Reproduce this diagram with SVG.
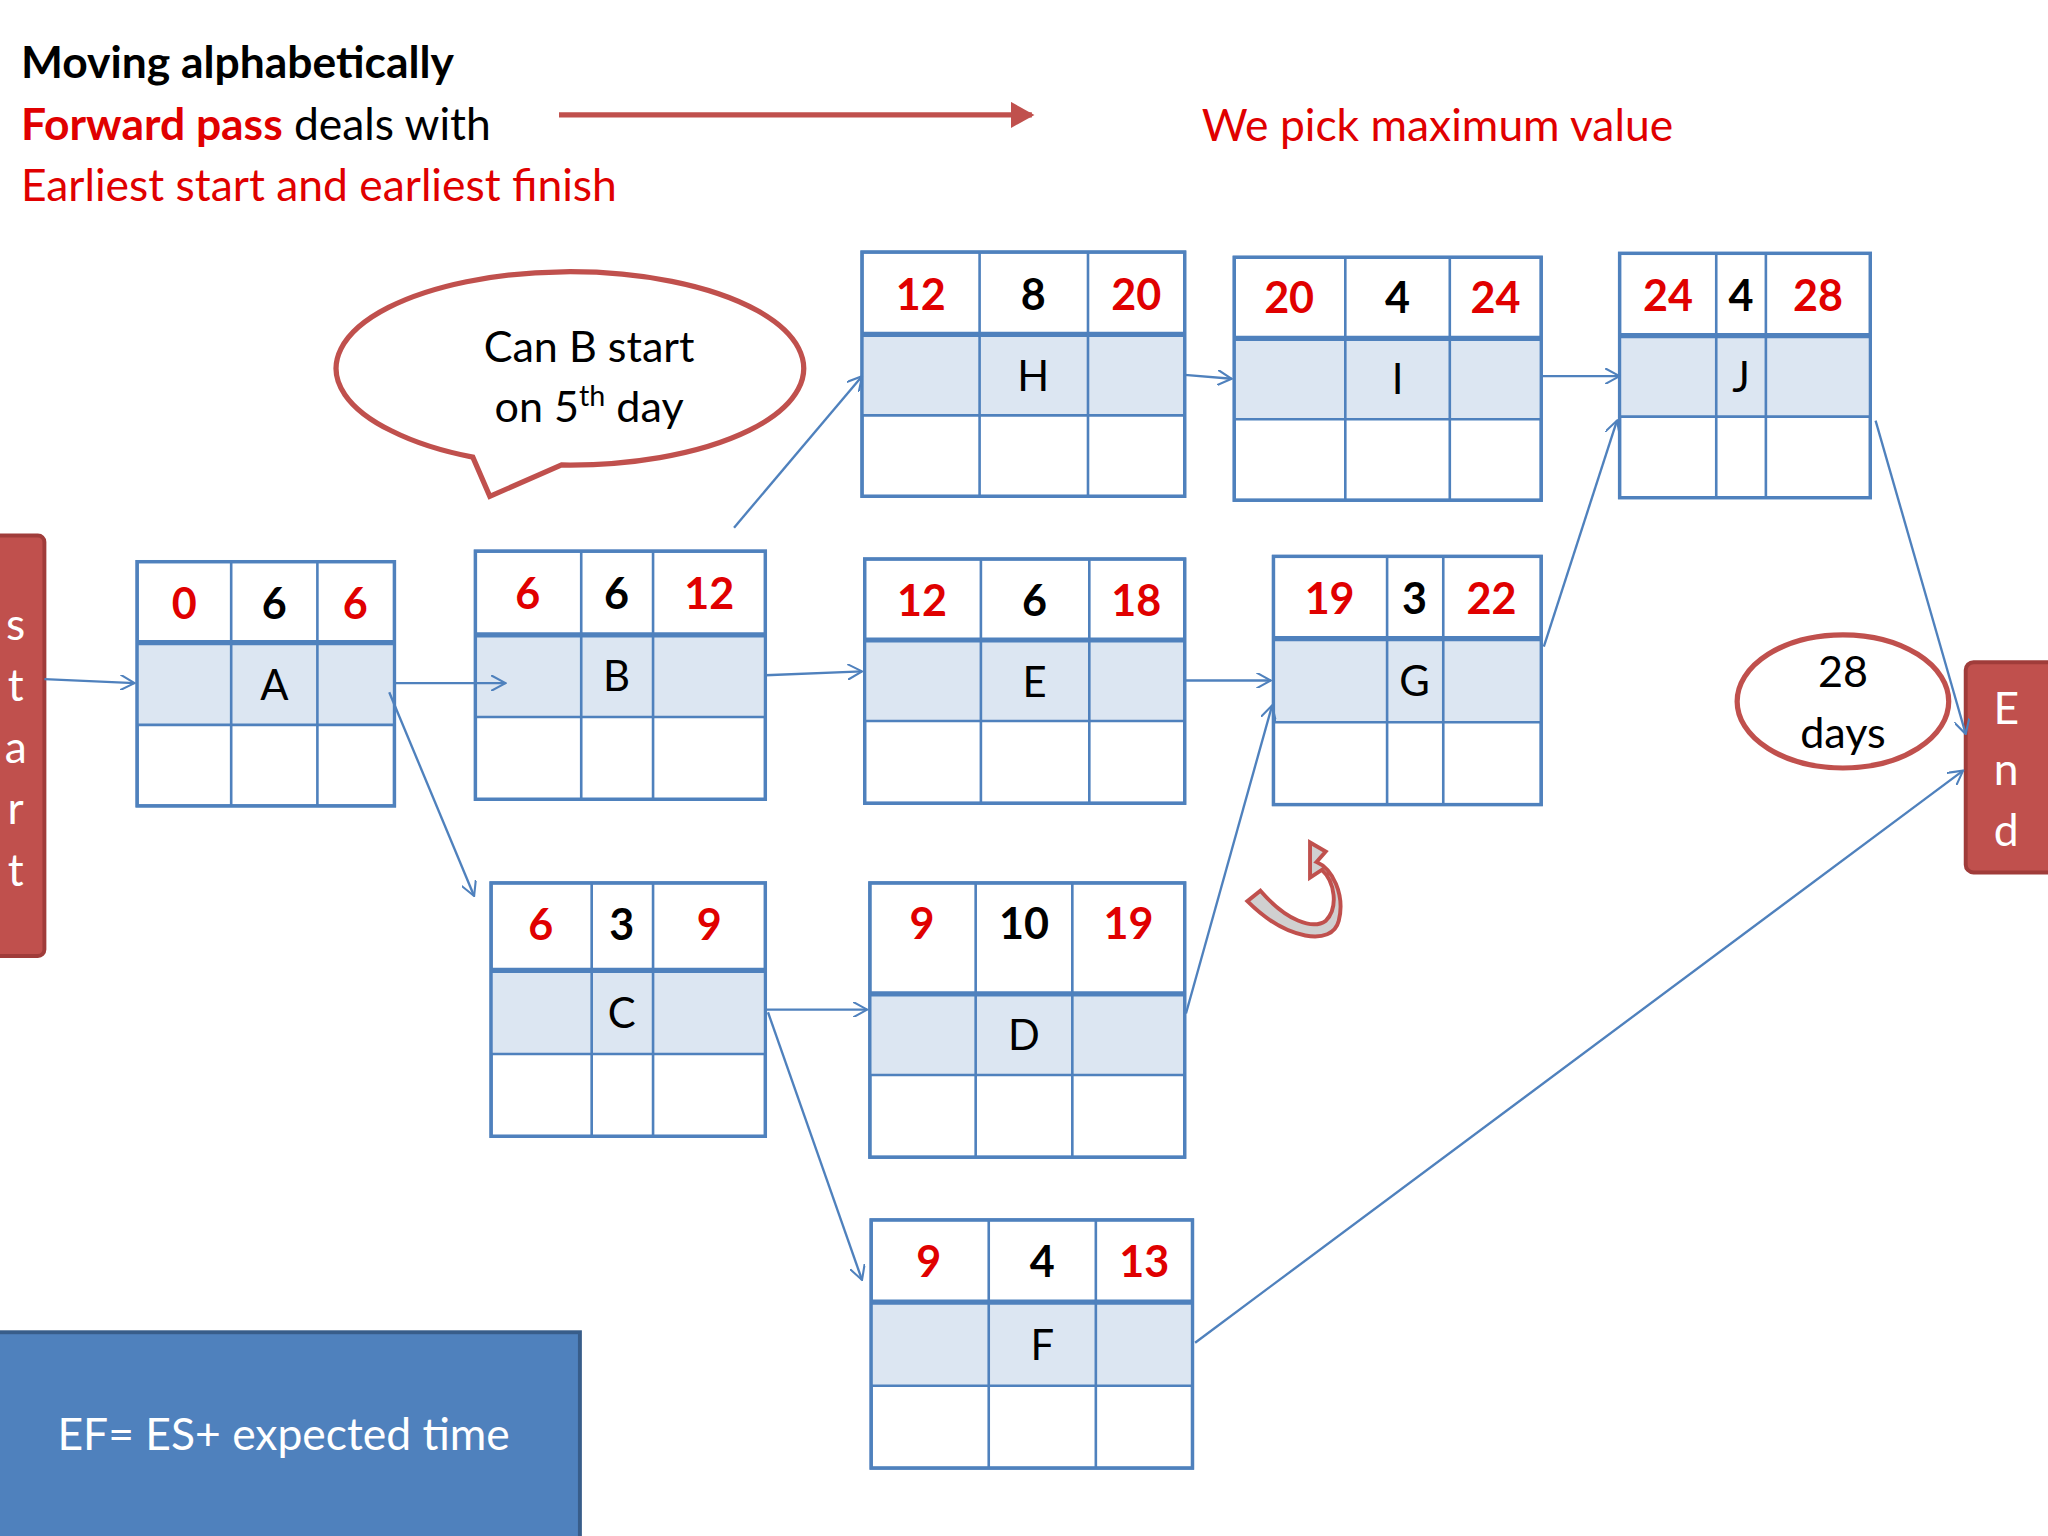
<svg xmlns="http://www.w3.org/2000/svg" width="2048" height="1536" viewBox="0 0 2048 1536">
<defs>
<style>
.t{font-family:Lato,"Open Sans","Liberation Sans",sans-serif}
.g line{stroke:#4f81bd;stroke-width:2}
.mid{fill:#dce6f2}
.box{fill:#fff;stroke:#4f81bd;stroke-width:2.5}
.n{font-family:Lato,"Liberation Sans",sans-serif;font-weight:bold;font-size:33px;text-anchor:middle}
.r{fill:#e00000}.k{fill:#000}
.lbl{font-family:Lato,"Liberation Sans",sans-serif;font-size:32px;text-anchor:middle;fill:#000}
.c line{stroke:#4f81bd;stroke-width:1.8;marker-end:url(#ah)}
.sl{font-family:Lato,"Liberation Sans",sans-serif;font-size:34px;fill:#fff;text-anchor:middle}
</style>
<marker id="ah" viewBox="0 0 12 12" refX="11" refY="6" markerWidth="12" markerHeight="12" markerUnits="userSpaceOnUse" orient="auto"><path d="M0,0 L11,6 L0,12" fill="none" stroke="#4f81bd" stroke-width="1.6"/></marker>
<marker id="rh" viewBox="0 0 10 10" refX="8" refY="5" markerWidth="5" markerHeight="5" orient="auto"><path d="M0,0 L9,5 L0,10 Z" fill="#c0504d"/></marker>
</defs>
<rect width="2048" height="1536" fill="#fff"/>
<g transform="scale(1.30612)">
<text class="t" x="16" y="60" font-size="34" font-weight="bold">Moving alphabetically</text>
<text class="t" x="16" y="107" font-size="34"><tspan fill="#e00000" font-weight="bold">Forward pass</tspan> deals with</text>
<text class="t" x="16" y="154" font-size="34" fill="#e00000">Earliest start and earliest finish</text>
<line x1="428" y1="88" x2="790" y2="88" stroke="#c0504d" stroke-width="4" marker-end="url(#rh)"/>
<text class="t" x="920" y="108" font-size="34" fill="#e00000">We pick maximum value</text>

<g id="start"><rect x="-8" y="410" width="42" height="322" rx="5" fill="#c0504d" stroke="#a03c3a" stroke-width="3"/>
<text class="sl" x="12" y="490">s</text><text class="sl" x="12" y="537">t</text><text class="sl" x="12" y="584">a</text><text class="sl" x="12" y="631">r</text><text class="sl" x="12" y="678">t</text></g>
<g id="end"><rect x="1505" y="507" width="70" height="161" rx="6" fill="#c0504d" stroke="#a03c3a" stroke-width="3"/>
<text class="sl" x="1536" y="554">E</text><text class="sl" x="1536" y="601">n</text><text class="sl" x="1536" y="648">d</text></g>

<g id="callout">
<path d="M300,330 A179,74 0 1 1 430,356 L375,380 L362,350 A179,74 0 0 1 300,330 Z" fill="#fff" stroke="#c0504d" stroke-width="4"/>
<text class="t" x="451" y="277" font-size="33" text-anchor="middle">Can B start</text>
<text class="t" x="451" y="323" font-size="33" text-anchor="middle">on 5<tspan font-size="22" dy="-12">th</tspan><tspan dy="12"> day</tspan></text>
</g>
<g id="days"><ellipse cx="1411" cy="537" rx="81" ry="51" fill="#fff" stroke="#c0504d" stroke-width="4"/>
<text class="t" x="1411" y="526" font-size="33" text-anchor="middle">28</text>
<text class="t" x="1411" y="573" font-size="33" text-anchor="middle">days</text></g>

<g id="curl"><path d="M955,690 C985,720 1020,725 1025,705 C1030,685 1020,665 1008,660 L1015,652 L1003,645 L1003,672 L1012,666 C1022,675 1025,695 1015,705 C1005,712 985,705 965,682 Z" fill="#d0d0d0" stroke="#c0504d" stroke-width="3"/></g>

<g id="nodeA" class="g"><rect class="box" x="105" y="430" width="197" height="187"/><rect class="mid" x="105" y="492" width="197" height="63"/><line x1="105" y1="492" x2="302" y2="492" style="stroke-width:4"/><line x1="105" y1="555" x2="302" y2="555"/><line x1="177" y1="430" x2="177" y2="617"/><line x1="243" y1="430" x2="243" y2="617"/><rect x="105" y="430" width="197" height="187" fill="none" stroke="#4f81bd" stroke-width="2.5"/>
<text class="n r" x="141" y="474">0</text><text class="n k" x="210" y="474">6</text><text class="n r" x="272" y="474">6</text><text class="lbl" x="210" y="536">A</text></g>

<g id="nodeB" class="g"><rect class="box" x="364" y="422" width="222" height="190"/><rect class="mid" x="364" y="486" width="222" height="63"/><line x1="364" y1="486" x2="586" y2="486" style="stroke-width:4"/><line x1="364" y1="549" x2="586" y2="549"/><line x1="445" y1="422" x2="445" y2="612"/><line x1="500" y1="422" x2="500" y2="612"/><rect x="364" y="422" width="222" height="190" fill="none" stroke="#4f81bd" stroke-width="2.5"/>
<text class="n r" x="404" y="466">6</text><text class="n k" x="472" y="466">6</text><text class="n r" x="543" y="466">12</text><text class="lbl" x="472" y="529">B</text></g>

<g id="nodeH" class="g"><rect class="box" x="660" y="193" width="247" height="187"/><rect class="mid" x="660" y="256" width="247" height="62"/><line x1="660" y1="256" x2="907" y2="256" style="stroke-width:4"/><line x1="660" y1="318" x2="907" y2="318"/><line x1="750" y1="193" x2="750" y2="380"/><line x1="833" y1="193" x2="833" y2="380"/><rect x="660" y="193" width="247" height="187" fill="none" stroke="#4f81bd" stroke-width="2.5"/>
<text class="n r" x="705" y="237">12</text><text class="n k" x="791" y="237">8</text><text class="n r" x="870" y="237">20</text><text class="lbl" x="791" y="299">H</text></g>

<g id="nodeI" class="g"><rect class="box" x="945" y="197" width="235" height="186"/><rect class="mid" x="945" y="259" width="235" height="62"/><line x1="945" y1="259" x2="1180" y2="259" style="stroke-width:4"/><line x1="945" y1="321" x2="1180" y2="321"/><line x1="1030" y1="197" x2="1030" y2="383"/><line x1="1110" y1="197" x2="1110" y2="383"/><rect x="945" y="197" width="235" height="186" fill="none" stroke="#4f81bd" stroke-width="2.5"/>
<text class="n r" x="987" y="240">20</text><text class="n k" x="1070" y="240">4</text><text class="n r" x="1145" y="240">24</text><text class="lbl" x="1070" y="302">I</text></g>

<g id="nodeJ" class="g"><rect class="box" x="1240" y="194" width="192" height="187"/><rect class="mid" x="1240" y="257" width="192" height="62"/><line x1="1240" y1="257" x2="1432" y2="257" style="stroke-width:4"/><line x1="1240" y1="319" x2="1432" y2="319"/><line x1="1314" y1="194" x2="1314" y2="381"/><line x1="1352" y1="194" x2="1352" y2="381"/><rect x="1240" y="194" width="192" height="187" fill="none" stroke="#4f81bd" stroke-width="2.5"/>
<text class="n r" x="1277" y="238">24</text><text class="n k" x="1333" y="238">4</text><text class="n r" x="1392" y="238">28</text><text class="lbl" x="1333" y="300">J</text></g>

<g id="nodeE" class="g"><rect class="box" x="662" y="428" width="245" height="187"/><rect class="mid" x="662" y="490" width="245" height="62"/><line x1="662" y1="490" x2="907" y2="490" style="stroke-width:4"/><line x1="662" y1="552" x2="907" y2="552"/><line x1="751" y1="428" x2="751" y2="615"/><line x1="834" y1="428" x2="834" y2="615"/><rect x="662" y="428" width="245" height="187" fill="none" stroke="#4f81bd" stroke-width="2.5"/>
<text class="n r" x="706" y="472">12</text><text class="n k" x="792" y="472">6</text><text class="n r" x="870" y="472">18</text><text class="lbl" x="792" y="534">E</text></g>

<g id="nodeG" class="g"><rect class="box" x="975" y="426" width="205" height="190"/><rect class="mid" x="975" y="489" width="205" height="64"/><line x1="975" y1="489" x2="1180" y2="489" style="stroke-width:4"/><line x1="975" y1="553" x2="1180" y2="553"/><line x1="1062" y1="426" x2="1062" y2="616"/><line x1="1105" y1="426" x2="1105" y2="616"/><rect x="975" y="426" width="205" height="190" fill="none" stroke="#4f81bd" stroke-width="2.5"/>
<text class="n r" x="1018" y="470">19</text><text class="n k" x="1083" y="470">3</text><text class="n r" x="1142" y="470">22</text><text class="lbl" x="1083" y="533">G</text></g>

<g id="nodeC" class="g"><rect class="box" x="376" y="676" width="210" height="194"/><rect class="mid" x="376" y="743" width="210" height="64"/><line x1="376" y1="743" x2="586" y2="743" style="stroke-width:4"/><line x1="376" y1="807" x2="586" y2="807"/><line x1="453" y1="676" x2="453" y2="870"/><line x1="500" y1="676" x2="500" y2="870"/><rect x="376" y="676" width="210" height="194" fill="none" stroke="#4f81bd" stroke-width="2.5"/>
<text class="n r" x="414" y="720">6</text><text class="n k" x="476" y="720">3</text><text class="n r" x="543" y="720">9</text><text class="lbl" x="476" y="787">C</text></g>

<g id="nodeD" class="g"><rect class="box" x="666" y="676" width="241" height="210"/><rect class="mid" x="666" y="761" width="241" height="62"/><line x1="666" y1="761" x2="907" y2="761" style="stroke-width:4"/><line x1="666" y1="823" x2="907" y2="823"/><line x1="747" y1="676" x2="747" y2="886"/><line x1="821" y1="676" x2="821" y2="886"/><rect x="666" y="676" width="241" height="210" fill="none" stroke="#4f81bd" stroke-width="2.5"/>
<text class="n r" x="706" y="719">9</text><text class="n k" x="784" y="719">10</text><text class="n r" x="864" y="719">19</text><text class="lbl" x="784" y="804">D</text></g>

<g id="nodeF" class="g"><rect class="box" x="667" y="934" width="246" height="190"/><rect class="mid" x="667" y="997" width="246" height="64"/><line x1="667" y1="997" x2="913" y2="997" style="stroke-width:4"/><line x1="667" y1="1061" x2="913" y2="1061"/><line x1="757" y1="934" x2="757" y2="1124"/><line x1="839" y1="934" x2="839" y2="1124"/><rect x="667" y="934" width="246" height="190" fill="none" stroke="#4f81bd" stroke-width="2.5"/>
<text class="n r" x="711" y="978">9</text><text class="n k" x="798" y="978">4</text><text class="n r" x="876" y="978">13</text><text class="lbl" x="798" y="1041">F</text></g>

<g id="connectors" class="c">
<line x1="34" y1="520" x2="103" y2="523"/>
<line x1="302" y1="523" x2="387" y2="523"/>
<line x1="298" y1="530" x2="363" y2="686"/>
<line x1="562" y1="404" x2="660" y2="288"/>
<line x1="586" y1="517" x2="660" y2="514"/>
<line x1="907" y1="287" x2="943" y2="290"/>
<line x1="1180" y1="288" x2="1240" y2="288"/>
<line x1="907" y1="521" x2="973" y2="521"/>
<line x1="586" y1="773" x2="664" y2="773"/>
<line x1="588" y1="775" x2="660" y2="980"/>
<line x1="908" y1="776" x2="974" y2="540"/>
<line x1="1182" y1="495" x2="1238" y2="322"/>
<line x1="1436" y1="322" x2="1505" y2="562"/>
<line x1="915" y1="1028" x2="1503" y2="590"/>
</g>

<g id="formula"><rect x="-4" y="1020" width="448" height="170" fill="#4f81bd" stroke="#385d8a" stroke-width="3"/>
<text class="t" x="44" y="1110" font-size="34" fill="#fff">EF= ES+ expected time</text></g>
</g>
</svg>
